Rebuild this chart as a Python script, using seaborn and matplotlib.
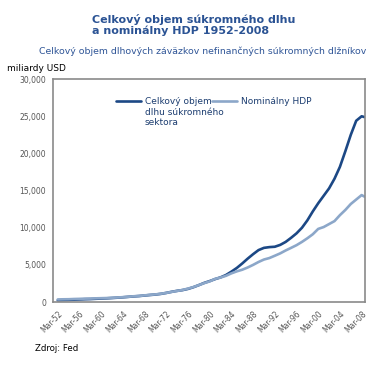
import matplotlib
matplotlib.use("Agg")
import matplotlib.pyplot as plt
import pandas as pd
import seaborn as sns
import numpy as np

# annual values (billions USD); last point = late 2008
years = [1952, 1953, 1954, 1955, 1956, 1957, 1958, 1959, 1960, 1961,
         1962, 1963, 1964, 1965, 1966, 1967, 1968, 1969, 1970, 1971,
         1972, 1973, 1974, 1975, 1976, 1977, 1978, 1979, 1980, 1981,
         1982, 1983, 1984, 1985, 1986, 1987, 1988, 1989, 1990, 1991,
         1992, 1993, 1994, 1995, 1996, 1997, 1998, 1999, 2000, 2001,
         2002, 2003, 2004, 2005, 2006, 2007, 2008, 2008.5]
debt = [250, 270, 290, 330, 360, 390, 410, 450, 480, 510,
        550, 600, 650, 710, 770, 820, 890, 960, 1020, 1110,
        1240, 1390, 1520, 1620, 1780, 2010, 2290, 2590, 2830, 3100,
        3330, 3650, 4100, 4600, 5200, 5850, 6450, 7000, 7300, 7400,
        7450, 7700, 8100, 8650, 9250, 10000, 11000, 12200, 13300, 14300,
        15300, 16600, 18200, 20300, 22500, 24400, 25000, 24900]
gdp = [360, 380, 390, 420, 440, 470, 480, 510, 530, 550,
       590, 620, 670, 720, 790, 830, 910, 980, 1040, 1130,
       1240, 1380, 1500, 1640, 1820, 2030, 2290, 2560, 2790, 3130,
       3310, 3540, 3870, 4140, 4360, 4660, 5010, 5400, 5730, 5930,
       6240, 6560, 6950, 7300, 7660, 8100, 8590, 9130, 9850, 10100,
       10500, 10900, 11700, 12400, 13200, 13800, 14400, 14200]

series_names = ["Celkový objem\ndlhu súkromného\nsektora", "Nominálny HDP"]
series_colors = ["#1c4885", "#8ca7c9"]
tick_years = list(range(1952, 2009, 4))
tick_labels = [f"Mar-{y % 100:02d}" for y in tick_years]

df = pd.DataFrame({"year": years, series_names[0]: debt, series_names[1]: gdp})
long = df.melt(id_vars="year", var_name="series", value_name="value")

sns.set_style("white")
plt.rcParams["font.family"] = ["DejaVu Sans"]

fig = plt.figure(figsize=(3.75, 3.68), dpi=100)
ax = fig.add_axes([0.141, 0.179, 0.832, 0.606])

sns.lineplot(data=long, x="year", y="value", hue="series",
             palette=dict(zip(series_names, series_colors)),
             linewidth=1.9, ax=ax)

ax.set_xlim(1951.1, 2008.6)
ax.set_ylim(0, 30000)
ax.set_yticks(range(0, 30001, 5000))
ax.set_yticklabels([f"{v:,}" for v in range(0, 30001, 5000)])
ax.set_xticks(tick_years)
ax.set_xticklabels(tick_labels, rotation=45, ha="right", rotation_mode="anchor")
ax.tick_params(axis="both", labelsize=5.5, colors="#555555", length=3, width=0.8,
               direction="out", pad=2)
ax.set_xlabel("")
ax.set_ylabel("")
for sp in ax.spines.values():
    sp.set_color("#8a8a8a")
    sp.set_linewidth(1.2)

# legend: handle sits beside the first line of each label
handles, labels = ax.get_legend_handles_labels()
first_lines = [lab.split("\n")[0] for lab in labels]
leg = ax.legend(handles, first_lines, loc="upper left",
                bbox_to_anchor=(0.19, 0.935), ncol=2, frameon=False,
                fontsize=6.5, handlelength=2.8, handletextpad=0.4,
                columnspacing=0.05, borderaxespad=0)
for t in leg.get_texts():
    t.set_color("#1c3d70")
fig.canvas.draw()
renderer = fig.canvas.get_renderer()
for t, lab in zip(leg.get_texts(), labels):
    rest = lab.split("\n")[1:]
    if rest:
        bb = t.get_window_extent(renderer)
        x0, y0 = fig.transFigure.inverted().transform((bb.x0, bb.y0))
        fig.text(x0, y0 - 0.004, "\n".join(rest), ha="left", va="top",
                 fontsize=6.5, color="#1c3d70", linespacing=1.15)

fig.text(0.245, 0.962, "Celkový objem súkromného dlhu\na nominálny HDP 1952-2008",
         ha="left", va="top", fontsize=8, fontweight="bold", color="#2b5394",
         linespacing=1.1)
fig.text(0.541, 0.862, "Celkový objem dlhových záväzkov nefinančných súkromných dlžníkov",
         ha="center", va="center", fontsize=6.75, color="#2f5597")
fig.text(0.018, 0.815, "miliardy USD", ha="left", va="center", fontsize=6.5,
         color="black")
fig.text(0.093, 0.052, "Zdroj: Fed", ha="left", va="center", fontsize=6.2,
         color="black")

fig.savefig("out.png", dpi=100, facecolor="white")
